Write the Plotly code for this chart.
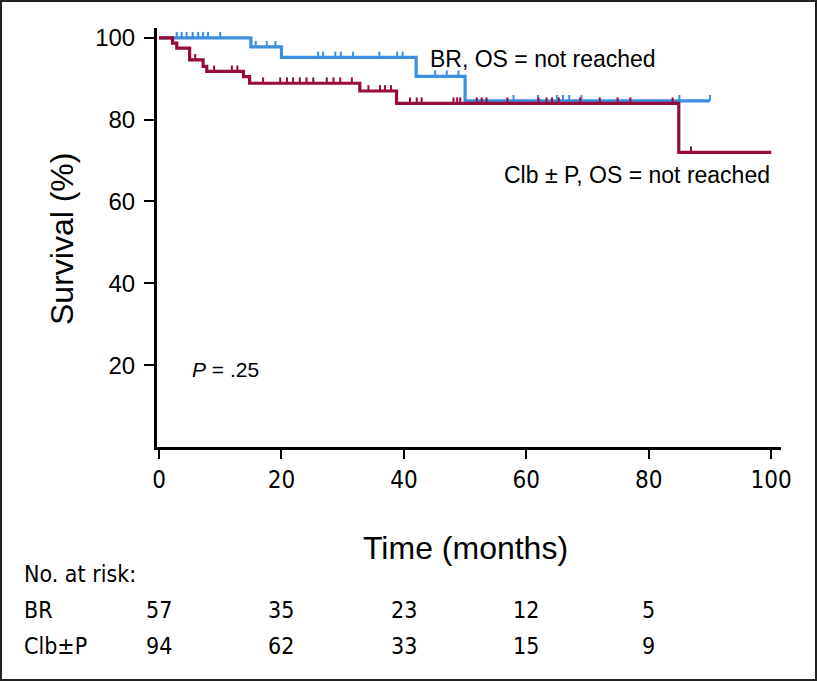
import plotly.graph_objects as go

# Kaplan-Meier curves (time in months, survival in %)
br_event_times = [15, 20, 42, 50]
br_surv = [97.8, 95.2, 90.6, 84.6]
br_end = 90
br_censor = [2.9, 3.7, 4.5, 5.5, 6.4, 7.2, 8.0, 10.0,
             15.8, 17.6, 19.0,
             26.0, 26.8, 28.8, 29.7, 31.7, 36.0, 38.9, 39.8,
             45.1, 47.0, 48.9,
             57.9, 61.9, 65.0, 66.0, 67.0, 69.0, 85.0, 90.0]

clb_event_times = [2.2, 2.9, 5.0, 7.2, 7.8, 13.8, 14.8, 32.8, 38.8, 84.9]
clb_surv = [98.7, 97.5, 94.6, 93.0, 91.8, 90.5, 88.9, 87.0, 84.0, 72.0]
clb_end = 100
clb_censor = [5.9, 9.0, 11.9, 12.8,
              17.0, 19.8, 20.9, 21.9, 23.0, 24.1, 25.2, 27.4, 28.5, 29.6, 31.5,
              34.2, 36.1, 36.9, 37.9,
              41.0, 42.1, 42.9, 48.1, 48.7, 49.2, 51.9, 52.7, 53.5, 56.9, 62.0,
              63.3, 64.2, 65.3, 68.8, 72.0, 74.9, 77.0, 83.9,
              86.9]

risk_times = [0, 20, 40, 60, 80]
risk_groups = ["BR", "Clb±P"]
risk_br = [57, 35, 23, 12, 5]
risk_clb = [94, 62, 33, 15, 9]

BLUE = "#3c8edf"
RED = "#980b3b"
FONT = "Liberation Sans, Arial, sans-serif"
NARROW = "DejaVu Sans Condensed, Liberation Sans Narrow, Arial Narrow, sans-serif"

# plot area in pixels (for placing paper-referenced text)
L, R, T, B = 157, 781, 28, 447


def px(x):
    return (x - L) / (R - L)


def py(y):
    return (B - y) / (B - T)


def step_value(times, surv, t):
    s = 100
    for et, v in zip(times, surv):
        if t >= et:
            s = v
    return s


fig = go.Figure()

for times, surv, end, cens, color in [
        (br_event_times, br_surv, br_end, br_censor, BLUE),
        (clb_event_times, clb_surv, clb_end, clb_censor, RED)]:
    fig.add_trace(go.Scatter(
        x=[0] + times + [end], y=[100] + surv + [surv[-1]],
        mode="lines", line=dict(color=color, width=3.2, shape="hv"),
        showlegend=False, hoverinfo="skip"))
    fig.add_trace(go.Scatter(
        x=cens, y=[step_value(times, surv, t) + 0.75 for t in cens],
        mode="markers",
        marker=dict(symbol="line-ns", size=4, line=dict(color=color, width=2)),
        showlegend=False, hoverinfo="skip"))

fig.update_xaxes(range=[-0.33, 101.6], tickvals=[0, 20, 40, 60, 80, 100],
                 showline=True, linecolor="black", linewidth=3,
                 ticks="outside", ticklen=9, tickwidth=2, tickcolor="black",
                 ticklabelstandoff=0,
                 showgrid=False, zeroline=False,
                 tickfont=dict(size=24, color="black", family=NARROW))
fig.update_yaxes(range=[0, 102.4], tickvals=[20, 40, 60, 80, 100],
                 showline=True, linecolor="black", linewidth=3,
                 ticks="outside", ticklen=10, tickwidth=2, tickcolor="black",
                 ticklabelstandoff=4,
                 showgrid=False, zeroline=False,
                 tickfont=dict(size=24, color="black", family=FONT))


def label(text, xp, yp, size, family=FONT, xanchor="center", **kw):
    return dict(text=text, x=px(xp), y=py(yp), xref="paper", yref="paper",
                xanchor=xanchor, yanchor="middle", showarrow=False,
                font=dict(size=size, family=family), **kw)


ann = [
    label("Survival (%)", 62, 239, 32, textangle=-90),
    label("Time (months)", 465, 548, 32),
    label("BR, OS = not reached", 428, 59, 23, xanchor="left"),
    label("Clb ± P, OS = not reached", 772, 175, 23, xanchor="right"),
    label("<i>P</i> = .25", 190, 369, 21, xanchor="left"),
    label("No. at risk:", 22, 574, 23, NARROW, xanchor="left"),
]

# number-at-risk table
for name, vals, ypx in [(risk_groups[0], risk_br, 610), (risk_groups[1], risk_clb, 646)]:
    ann.append(label(name, 22, ypx, 23, NARROW, xanchor="left"))
    for t, v in zip(risk_times, vals):
        ann.append(dict(text=str(v), x=t, y=py(ypx), xref="x", yref="paper",
                        xanchor="center", yanchor="middle", showarrow=False,
                        font=dict(size=23, family=NARROW)))

fig.update_layout(
    width=817, height=681,
    margin=dict(l=L, r=817 - R, t=T, b=681 - B),
    plot_bgcolor="white", paper_bgcolor="white",
    font=dict(family=FONT, color="black"),
    annotations=ann,
    shapes=[dict(type="rect", xref="paper", yref="paper",
                 x0=px(1), x1=px(816), y0=py(680), y1=py(1),
                 line=dict(color="#222", width=2))],
)

fig.write_html("out.html", config={"displayModeBar": False},
               post_script="document.body.style.margin='0';document.body.style.overflow='hidden';")
